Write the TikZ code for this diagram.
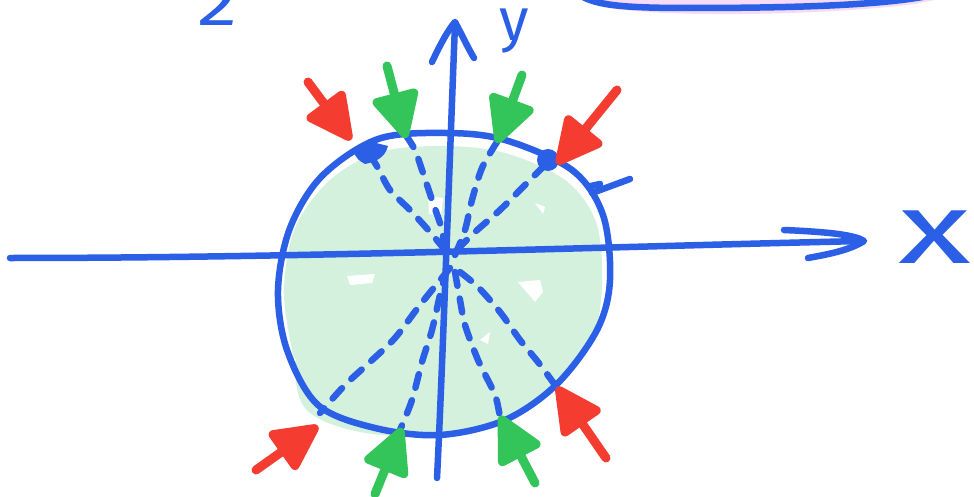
\documentclass[tikz,border=0pt]{standalone}
\usepackage{fontspec}
\setmainfont{Fira Sans}
\usetikzlibrary{arrows.meta}
\definecolor{pen}{HTML}{2A5FE6}
\definecolor{penred}{HTML}{F53C30}
\definecolor{pengreen}{HTML}{33C45A}
\definecolor{fillgreen}{HTML}{D4F1DD}
\definecolor{fillpink}{HTML}{F6DAF6}
\tikzset{
  stroke/.style={draw=pen, line width=6.5pt, line cap=round, line join=round},
  dashray/.style={stroke, dash pattern=on 14pt off 13pt},
  force/.style={line width=9pt, line cap=round, line join=round,
    -{Triangle[length=52pt,width=50pt,round]}},
  redforce/.style={force, draw=penred, fill=penred},
  greenforce/.style={force, draw=pengreen, fill=pengreen},
  label/.style={text=pen, inner sep=0pt}
}
\begin{document}
\begin{tikzpicture}[x=1pt,y=-1pt]
\useasboundingbox[fill=white] (0,0) rectangle (974,497);
% top right partial shape
\fill[fillpink] (600,6) .. controls (650,18) and (820,16) .. (915,4) -- (935,0) -- (590,0) -- cycle;
\draw[stroke] (583,-3) .. controls (600,6) and (630,8) .. (690,8) .. controls (800,8) and (880,5) .. (928,-4);
% green fill
\fill[fillgreen] plot[smooth cycle, tension=0.55] coordinates {(602,284) (596,222) (565,180) (505,153) (444,146) (380,152) (330,180) (295,228) (284,290) (292,350) (305,408) (360,432) (444,436) (505,422) (556,384) (592,340)};
% white speckles
\fill[white] (428,196) -- (443,198) -- (441,216) -- (429,214) -- cycle;
\fill[white] (535,203) -- (545,207) -- (543,214) -- cycle;
\fill[white] (347,276) -- (375,274) -- (372,283) -- (350,285) -- cycle;
\fill[white] (518,282) -- (540,280) -- (543,292) -- (535,302) -- cycle;
\fill[white] (480,340) -- (490,332) -- (488,344) -- cycle;
\fill[white] (284,345) -- (296,360) -- (290,372) -- cycle;
% circle outline
\draw[stroke] plot[smooth cycle, tension=0.55] coordinates {(610,280) (603,215) (572,170) (505,140) (446,133) (378,139) (322,176) (290,228) (278,290) (287,350) (318,405) (375,428) (440,435) (505,420) (557,384) (597,330)};
% x axis
\draw[stroke] (10,258) .. controls (300,258) and (600,247) .. (862,241);
\draw[stroke] (784,230) .. controls (830,232) and (855,235) .. (864,241) .. controls (850,250) and (830,254) .. (808,258);
% y axis
\draw[stroke] (437,478) .. controls (442,380) and (450,150) .. (455,24);
\draw[stroke] (432,62) .. controls (440,45) and (448,30) .. (455,22) .. controls (462,35) and (468,48) .. (474,58);
% dashed rays
\draw[dashray] plot[smooth] coordinates {(445,250) (430,232) (410,210) (390,190) (378,168) (370,155)};
\draw[dashray] plot[smooth] coordinates {(444,250) (442,230) (432,200) (422,170) (415,150) (407,137)};
\draw[dashray] plot[smooth] coordinates {(455,255) (465,230) (472,200) (482,168) (497,142)};
\draw[dashray] plot[smooth] coordinates {(457,250) (475,232) (500,210) (525,185) (548,162)};
\draw[dashray] plot[smooth] coordinates {(450,268) (420,305) (395,338) (370,362) (345,385) (320,413)};
\draw[dashray] plot[smooth] coordinates {(447,270) (440,295) (432,330) (422,362) (412,400) (400,430)};
\draw[dashray] plot[smooth] coordinates {(455,272) (460,300) (465,325) (478,360) (495,395) (500,418)};
\draw[dashray] plot[smooth] coordinates {(460,272) (478,287) (500,312) (520,340) (538,362) (555,385)};
% dots on boundary
\fill[pen] (352,150) -- (372,142) -- (388,146) .. controls (385,158) and (375,162) .. (365,164) .. controls (358,160) .. cycle;
\fill[pen] (548,160) circle [radius=11pt];
% small tick
\draw[stroke] (592,193) -- (630,179);
\draw[stroke] (591,186) -- (600,184);
% force arrows
\draw[redforce] (308,82) -- (351,140);
\draw[greenforce] (387,66) -- (406,138);
\draw[greenforce] (522,75) -- (497,143);
\draw[redforce] (617,90) -- (557,164);
\draw[redforce] (256,470) -- (318,426);
\draw[greenforce] (375,494) -- (402,428);
\draw[greenforce] (535,483) -- (500,416);
\draw[redforce] (606,458) -- (557,387);
% labels
\node[label, font=\fontsize{62}{62}\selectfont, anchor=base, xscale=1.3] (two) at (217,26) {2};
\node[label, font=\fontsize{60}{60}\selectfont, anchor=base] (ylab) at (514,41) {y};
\node[label, font=\fontsize{100}{100}\selectfont, anchor=base, xscale=1.5] (xlab) at (935,263) {x};
\end{tikzpicture}
\end{document}
